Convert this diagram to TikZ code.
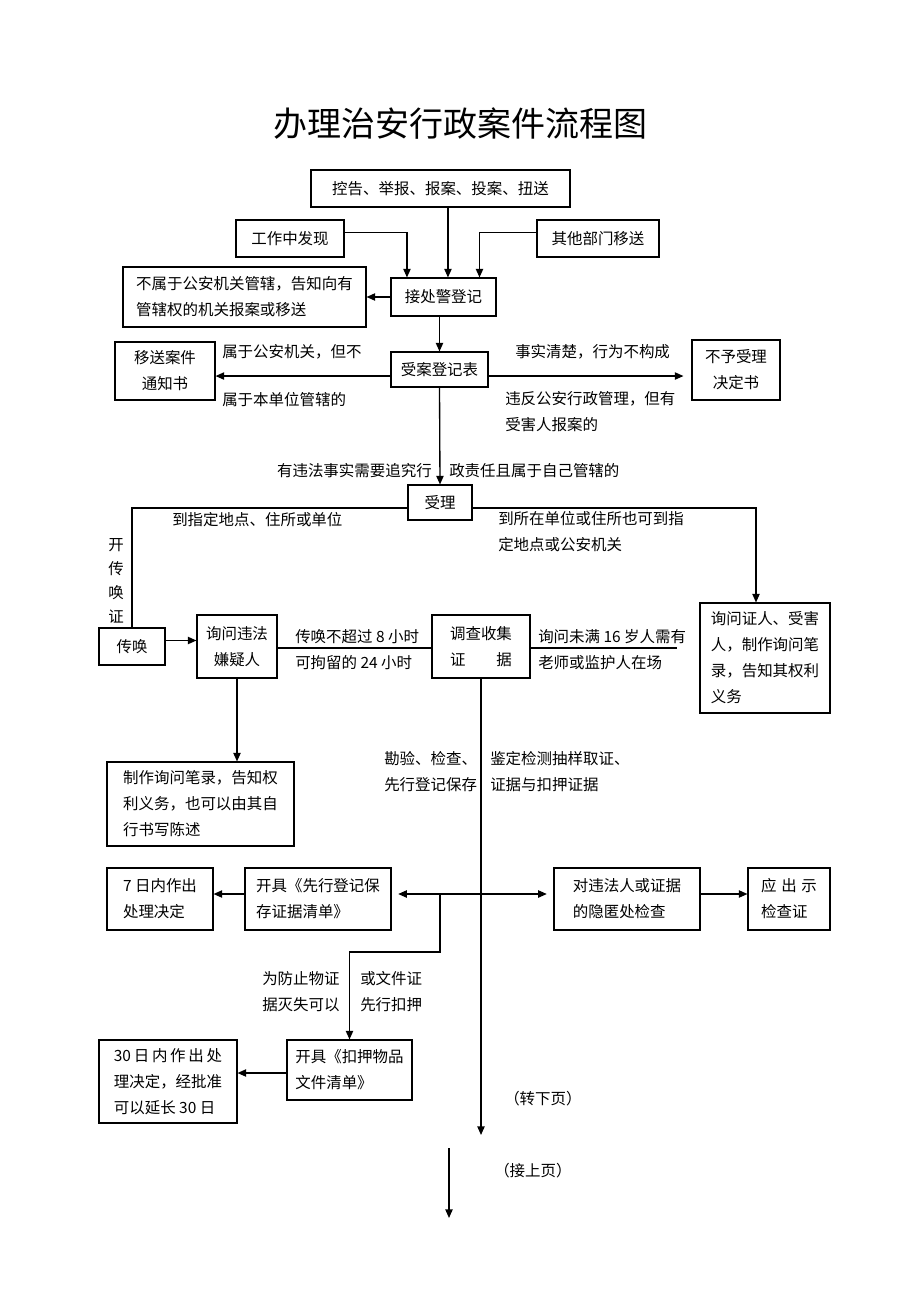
\documentclass[tikz,border=0pt]{standalone}
\usepackage{fontspec}
\setmainfont{Noto Sans CJK SC}
\usetikzlibrary{arrows.meta}
\begin{document}
\begin{tikzpicture}[x=0.75pt,y=-0.75pt,
  every node/.style={font=\fontsize{11.6}{19.5}\selectfont, inner sep=0pt},
  box/.style={draw, line width=0.8pt, align=center},
  boxl/.style={draw, line width=0.8pt, align=left},
  lblw/.style={align=left, anchor=west},
  lble/.style={align=right, anchor=east},
  ar/.style={line width=1pt, -{Triangle[length=6.5pt,width=5.5pt]}},
  dar/.style={line width=1pt, {Triangle[length=6.5pt,width=5.5pt]}-{Triangle[length=6.5pt,width=5.5pt]}},
  ln/.style={line width=1pt}]
\useasboundingbox (0,0) rectangle (920,1302);
\fill[white] (0,0) rectangle (920,1302);

\node (title) at (460,124) {\fontsize{25.5}{30}\selectfont 办理治安行政案件流程图};

% boxes
\node[box, minimum width=194.25pt, minimum height=27.75pt] (ctrl) at (440.5,188.5) {控告、举报、报案、投案、扭送};
\node[box, minimum width=81pt, minimum height=27.75pt] (work) at (290,238.5) {工作中发现};
\node[box, minimum width=91.5pt, minimum height=27.75pt] (other) at (598,238.5) {其他部门移送};
\node[box, minimum width=78.75pt, minimum height=28.5pt] (jcj) at (443.5,297) {接处警登记};
\node[boxl, minimum width=182.25pt, minimum height=45pt] (nb) at (244.5,297) {不属于公安机关管辖，告知向有\\管辖权的机关报案或移送};
\node[box, minimum width=72.75pt, minimum height=26.25pt] (saj) at (439.5,369.5) {受案登记表};
\node[box, minimum width=75pt, minimum height=43.5pt] (ysaj) at (165,371) {移送案件\\通知书};
\node[box, minimum width=66pt, minimum height=45pt] (bysl) at (736,370) {不予受理\\决定书};
\node[box, minimum width=48pt, minimum height=26.25pt] (sl) at (440,502.5) {受理};
\node[box, minimum width=49.5pt, minimum height=27.75pt] (ch) at (132,646.5) {传唤};
\node[box, minimum width=60pt, minimum height=47.25pt] (xwwf) at (237,646.5) {询问违法\\嫌疑人};
\node[box, minimum width=73.5pt, minimum height=47.25pt] (dcsj) at (481,646.5) {调查收集\\\makebox[4em]{证\hfill 据}};
\node[boxl, minimum width=97.5pt, minimum height=82.5pt] (xwzr) at (765,658) {询问证人、受害\\人，制作询问笔\\录，告知其权利\\义务};
\node[boxl, minimum width=140.25pt, minimum height=63pt] (zzxw) at (200.5,804) {制作询问笔录，告知权\\利义务，也可以由其自\\行书写陈述};
\node[boxl, minimum width=109.5pt, minimum height=46.5pt] (kjxx) at (318,899) {开具《先行登记保\\存证据清单》};
\node[boxl, minimum width=79.5pt, minimum height=46.5pt] (qr) at (160,899) {7 日内作出\\处理决定};
\node[boxl, minimum width=109.5pt, minimum height=46.5pt] (dwf) at (627,899) {对违法人或证据\\的隐匿处检查};
\node[boxl, minimum width=61.5pt, minimum height=46.5pt] (ycs) at (789,899) {\makebox[3.6em]{应\hfill 出\hfill 示}\\检查证};
\node[boxl, minimum width=93.75pt, minimum height=45pt] (kjky) at (349.5,1070) {开具《扣押物品\\文件清单》};
\node[boxl, minimum width=103.5pt, minimum height=62.25pt] (ss) at (168,1081.5) {\makebox[7em]{30\hfill 日\hfill 内\hfill 作\hfill 出\hfill 处}\\理决定，经批准\\可以延长 30 日};

% labels
\node[lblw] (l1) at (222,352) {属于公安机关，但不};
\node[lblw] (l2) at (222,400) {属于本单位管辖的};
\node[lblw] (l3) at (515,352) {事实清楚，行为不构成};
\node[lblw] (l4) at (505,412) {违反公安行政管理，但有\\受害人报案的};
\node[lble] (l5) at (432,471) {有违法事实需要追究行};
\node[lblw] (l6) at (449,471) {政责任且属于自己管辖的};
\node[lblw] (l7) at (172,520) {到指定地点、住所或单位};
\node[lblw] (l8) at (498,532) {到所在单位或住所也可到指\\定地点或公安机关};
\node[align=center, font=\fontsize{11.6}{18}\selectfont] (l9) at (116,581) {开\\传\\唤\\证};
\node[lblw] (l10) at (295,650) {传唤不超过 8 小时\\可拘留的 24 小时};
\node[lblw] (l11) at (538,650) {询问未满 16 岁人需有\\老师或监护人在场};
\node[lblw] (l12) at (384,772) {勘验、检查、\\先行登记保存};
\node[lblw] (l13) at (490,772) {鉴定检测抽样取证、\\证据与扣押证据};
\node[lblw] (l14) at (262,992) {为防止物证\\据灭失可以};
\node[lblw] (l15) at (360,992) {或文件证\\先行扣押};
\node[lblw] (l16) at (504,1099) {（转下页）};
\node[lblw] (l17) at (494,1171) {（接上页）};

% coordinates
\coordinate (e16) at (677,648);
\coordinate (pend) at (481,1135);
\coordinate (br) at (440,894);
\coordinate (c1) at (449,1148);
\coordinate (c2) at (449,1218);

% connectors
\draw[ar] ([yshift=4.5pt]work.east) -| ([xshift=-27.4pt]jcj.north);
\draw[ar] ([xshift=5.6pt]ctrl.south) -- ([xshift=5.6pt]ctrl.south |- jcj.north);
\draw[ar] ([yshift=4.5pt]other.west) -| ([xshift=27pt]jcj.north);
\draw[ar] (jcj.west) -- (jcj.west -| nb.east);
\draw[ar] (saj.north |- jcj.south) -- (saj.north);
\draw[ar] ([yshift=-4.9pt]saj.west) -- ([yshift=-4.9pt]saj.west -| ysaj.east);
\draw[ar] ([yshift=-4.9pt]saj.east) -- ([yshift=-4.9pt,xshift=-6pt]saj.east -| bysl.west);
\draw[ar] (saj.south) -- (sl.north);
\draw[ln] ([yshift=-4pt]sl.west) -| (ch.north);
\draw[ar] ([yshift=-4pt]sl.east) -| ([xshift=-6.75pt]xwzr.north);
\draw[ar] ([yshift=4.5pt]ch.east) -- ([yshift=4.5pt]ch.east -| xwwf.west);
\draw[ln] ([yshift=-1pt]xwwf.east) -- ([yshift=-1pt]xwwf.east -| dcsj.west);
\draw[ln] ([yshift=-1pt]dcsj.east) -- ([yshift=-1pt]dcsj.east -| e16);
\draw[ar] (xwwf.south) -- (xwwf.south |- zzxw.north);
\draw[ar] (dcsj.south) -- (pend);
\draw[dar, shorten <=5pt, shorten >=5pt] ([yshift=3.75pt]kjxx.east) -- ([yshift=3.75pt]kjxx.east -| dwf.west);
\draw[ar] ([yshift=3.75pt]kjxx.west) -- ([yshift=3.75pt]kjxx.west -| qr.east);
\draw[ar] ([yshift=3.75pt]dwf.east) -- ([yshift=3.75pt]dwf.east -| ycs.west);
\draw[ar] (br) -- ++(0,58) -| (kjky.north);
\draw[ar] ([yshift=-2.25pt]kjky.west) -- ([yshift=-2.25pt]kjky.west -| ss.east);
\draw[ar] (c1) -- (c2);
\end{tikzpicture}
\end{document}
